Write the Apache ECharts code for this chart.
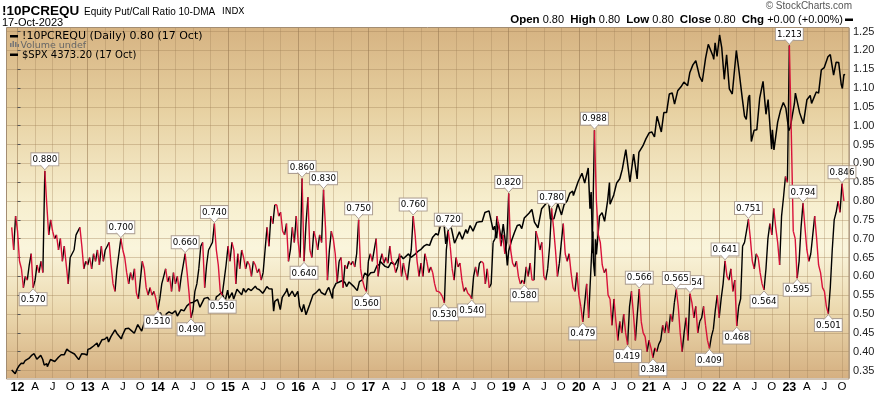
<!DOCTYPE html>
<html><head><meta charset="utf-8">
<script src="https://cdn.jsdelivr.net/npm/echarts@6/dist/echarts.min.js"></script>
<style>html,body{margin:0;padding:0;background:#fff}#c{width:880px;height:394px}</style>
</head><body><div id="c"></div>
<script>
// ---- DATA ----
// Equity Put/Call Ratio 10-DMA, sampled on the 1st, 11th and 21st of each month from Dec 2011
const pcStart = '2011-12-01';
const pcValues = [
0.73,0.67,0.76,0.72,0.64,0.62,0.57,0.60,0.59,0.63,0.66,0.57,
0.59,0.63,0.61,0.64,0.61,0.88,0.79,0.71,0.75,0.72,0.70,0.71,
0.67,0.70,0.64,0.68,0.63,0.58,0.65,0.66,0.67,0.71,0.72,0.73,
0.68,0.62,0.64,0.63,0.65,0.62,0.66,0.64,0.67,0.63,0.68,0.64,
0.67,0.68,0.69,0.63,0.58,0.56,0.62,0.66,0.70,0.67,0.65,0.61,
0.58,0.61,0.59,0.62,0.555,0.54,0.59,0.64,0.62,0.57,0.55,0.57,
0.55,0.56,0.54,0.51,0.54,0.58,0.60,0.62,0.585,0.60,0.56,0.61,
0.58,0.60,0.56,0.60,0.63,0.66,0.61,0.555,0.49,0.51,0.56,0.58,
0.62,0.68,0.69,0.57,0.63,0.67,0.68,0.69,0.74,0.67,0.63,0.56,
0.55,0.59,0.63,0.68,0.64,0.69,0.67,0.58,0.66,0.62,0.67,0.65,
0.62,0.64,0.63,0.60,0.64,0.63,0.61,0.62,0.59,0.61,0.67,0.73,
0.68,0.76,0.74,0.79,0.79,0.76,0.77,0.72,0.71,0.74,0.64,0.67,
0.73,0.69,0.76,0.69,0.65,0.86,
0.64,0.74,0.81,0.67,0.65,0.72,0.70,0.67,0.71,0.69,0.83,0.73,
0.59,0.67,0.72,0.70,0.66,0.585,0.64,0.65,0.57,0.63,0.62,0.64,
0.63,0.64,0.625,0.66,0.75,0.62,0.59,0.57,0.56,0.64,0.66,0.64,
0.67,0.70,0.60,0.64,0.66,0.635,0.65,0.635,0.68,0.64,0.635,0.61,
0.625,0.66,0.60,0.635,0.61,0.59,0.635,0.67,0.76,0.71,0.64,0.60,
0.635,0.60,0.66,0.64,0.61,0.625,0.61,0.58,0.56,0.56,0.555,0.546,
0.53,0.67,0.72,0.68,0.62,0.59,0.65,0.625,0.635,0.59,0.56,0.57,
0.555,0.55,0.54,0.60,0.625,0.60,0.635,0.64,0.635,0.58,0.62,0.57,
0.58,0.69,0.70,0.76,0.73,0.68,0.71,0.66,0.69,0.82,0.67,0.635,
0.625,0.64,0.60,0.58,0.59,0.58,0.625,0.60,0.635,0.59,0.59,0.72,
0.70,0.67,0.69,0.60,0.59,0.62,0.68,0.78,0.73,0.67,0.60,0.635,
0.69,0.74,0.66,0.64,0.66,0.61,0.57,0.56,0.61,0.55,0.52,0.479,
0.53,0.58,0.49,0.60,0.71,0.988,0.80,0.71,0.69,0.63,0.61,0.62,
0.55,0.54,0.47,0.54,0.48,0.43,0.48,0.45,0.50,0.45,0.419,0.52,
0.56,0.50,0.43,0.50,0.566,0.48,0.45,0.44,0.40,0.43,0.41,0.384,
0.41,0.40,0.42,0.43,0.47,0.45,0.48,0.45,0.50,0.48,0.53,0.565,
0.52,0.45,0.40,0.45,0.49,0.43,0.554,0.53,0.49,0.52,0.45,0.48,
0.49,0.52,0.47,0.43,0.409,0.44,0.46,0.51,0.55,0.49,0.54,0.58,
0.641,0.60,0.59,0.62,0.56,0.59,0.468,0.52,0.54,0.68,0.69,0.72,
0.751,0.70,0.64,0.62,0.66,0.65,0.61,0.58,0.564,0.62,0.70,0.74,
0.71,0.78,0.73,0.69,0.63,0.76,0.81,0.865,0.85,1.213,0.98,0.72,
0.70,0.595,0.64,0.73,0.794,0.73,0.67,0.64,0.66,0.71,0.76,0.70,
0.63,0.61,0.57,0.56,0.52,0.501,0.57,0.67,0.75,0.77,0.80,0.77,
0.846,0.80
];
// S&P 500 ($SPX) closes
const spxDates = ['2011-12-01','2011-12-08','2011-12-19','2011-12-30','2012-01-10','2012-01-20','2012-01-31','2012-02-10','2012-02-29','2012-03-15','2012-03-26','2012-04-10','2012-04-20','2012-04-30','2012-05-10','2012-05-18','2012-05-31','2012-06-04','2012-06-20','2012-06-29','2012-07-12','2012-07-31','2012-08-15','2012-08-31','2012-09-14','2012-09-28','2012-10-05','2012-10-23','2012-11-15','2012-11-30','2012-12-14','2012-12-28',
'2013-01-02','2013-01-15','2013-01-31','2013-02-19','2013-02-25','2013-03-14','2013-03-28','2013-04-11','2013-04-18','2013-04-30','2013-05-21','2013-05-31','2013-06-10','2013-06-24','2013-06-28','2013-07-15','2013-07-31','2013-08-15','2013-08-30','2013-09-18','2013-09-30','2013-10-08','2013-10-22','2013-10-31','2013-11-15','2013-11-29','2013-12-12','2013-12-31',
'2014-01-15','2014-02-03','2014-02-14','2014-02-28','2014-03-14','2014-03-31','2014-04-11','2014-04-30','2014-05-15','2014-05-30','2014-06-18','2014-06-30','2014-07-24','2014-08-07','2014-08-29','2014-09-18','2014-09-30','2014-10-15','2014-10-31','2014-11-14','2014-11-28','2014-12-05','2014-12-16','2014-12-29',
'2015-01-06','2015-01-22','2015-01-30','2015-02-17','2015-02-27','2015-03-11','2015-03-20','2015-03-31','2015-04-15','2015-04-30','2015-05-21','2015-05-29','2015-06-12','2015-06-29','2015-07-07','2015-07-20','2015-07-31','2015-08-17','2015-08-25','2015-08-31','2015-09-16','2015-09-29','2015-10-09','2015-10-30','2015-11-03','2015-11-13','2015-11-30','2015-12-14','2015-12-29',
'2016-01-08','2016-01-20','2016-01-29','2016-02-11','2016-02-29','2016-03-17','2016-03-31','2016-04-20','2016-04-29','2016-05-19','2016-05-31','2016-06-08','2016-06-27','2016-06-30','2016-07-15','2016-07-29','2016-08-15','2016-08-31','2016-09-09','2016-09-22','2016-10-14','2016-11-04','2016-11-15','2016-11-30','2016-12-13','2016-12-30',
'2017-01-13','2017-01-31','2017-02-15','2017-02-28','2017-03-01','2017-03-27','2017-04-13','2017-04-28','2017-05-17','2017-05-31','2017-06-19','2017-06-30','2017-07-27','2017-08-10','2017-08-18','2017-08-31','2017-09-15','2017-09-29','2017-10-16','2017-10-31','2017-11-15','2017-11-30','2017-12-18','2017-12-29',
'2018-01-12','2018-01-26','2018-02-08','2018-02-26','2018-03-08','2018-03-23','2018-04-02','2018-04-18','2018-05-03','2018-05-21','2018-05-29','2018-06-13','2018-06-28','2018-07-17','2018-07-31','2018-08-15','2018-08-29','2018-09-20','2018-10-11','2018-10-19','2018-10-29','2018-11-07','2018-11-23','2018-12-03','2018-12-14','2018-12-24','2018-12-31',
'2019-01-15','2019-01-31','2019-02-15','2019-02-28','2019-03-08','2019-03-21','2019-04-15','2019-04-30','2019-05-13','2019-05-31','2019-06-20','2019-06-28','2019-07-15','2019-07-26','2019-08-05','2019-08-23','2019-09-13','2019-10-02','2019-10-15','2019-10-31','2019-11-15','2019-11-29','2019-12-03','2019-12-27',
'2020-01-17','2020-01-31','2020-02-19','2020-02-28','2020-03-04','2020-03-12','2020-03-13','2020-03-16','2020-03-23','2020-03-26','2020-04-01','2020-04-17','2020-04-30','2020-05-13','2020-05-29','2020-06-08','2020-06-11','2020-06-30','2020-07-15','2020-07-31','2020-08-14','2020-09-02','2020-09-23','2020-10-12','2020-10-30','2020-11-09','2020-11-30','2020-12-15','2020-12-31',
'2021-01-15','2021-01-29','2021-02-12','2021-03-04','2021-03-17','2021-03-31','2021-04-15','2021-04-30','2021-05-12','2021-05-28','2021-06-15','2021-06-30','2021-07-19','2021-07-30','2021-08-16','2021-08-31','2021-09-02','2021-09-20','2021-10-04','2021-10-21','2021-11-05','2021-11-30','2021-12-03','2021-12-10','2021-12-20',
'2022-01-03','2022-01-14','2022-01-27','2022-02-09','2022-02-23','2022-03-08','2022-03-29','2022-04-14','2022-04-29','2022-05-11','2022-05-20','2022-05-31','2022-06-07','2022-06-16','2022-06-30','2022-07-14','2022-07-29','2022-08-16','2022-08-31','2022-09-12','2022-09-30','2022-10-04','2022-10-12','2022-10-31','2022-11-15','2022-11-30','2022-12-13','2022-12-28',
'2023-01-05','2023-01-27','2023-02-02','2023-02-24','2023-03-13','2023-03-31','2023-04-18','2023-04-25','2023-05-19','2023-05-31','2023-06-15','2023-06-30','2023-07-19','2023-07-31','2023-08-18','2023-08-31','2023-09-14','2023-09-27','2023-10-03','2023-10-11','2023-10-17'];
const spxValues = [1244,1234,1205,1258,1292,1315,1312,1342,1366,1402,1416,1358,1378,1398,1357,1295,1310,1278,1355,1362,1334,1379,1405,1406,1465,1440,1461,1413,1353,1416,1413,1402,
1462,1472,1498,1530,1488,1563,1569,1593,1541,1597,1669,1631,1643,1573,1606,1682,1686,1661,1633,1725,1682,1656,1754,1757,1798,1806,1775,1848,
1848,1742,1838,1859,1841,1872,1815,1884,1870,1924,1956,1960,1988,1910,2003,2011,1972,1862,2018,2039,2068,2075,1972,2090,
2003,2063,1995,2100,2105,2040,2108,2068,2106,2086,2131,2107,2094,2057,2081,2128,2104,2102,1868,1972,1996,1884,2014,2079,2109,2023,2080,2021,2078,
1922,1859,1940,1829,1932,2040,2060,2102,2065,2040,2097,2119,2001,2099,2162,2174,2190,2171,2128,2177,2133,2085,2180,2199,2272,2239,
2274,2279,2349,2364,2396,2342,2329,2384,2357,2412,2453,2423,2475,2438,2425,2472,2500,2519,2557,2575,2565,2648,2690,2674,
2786,2873,2581,2780,2738,2588,2582,2708,2630,2733,2690,2776,2716,2809,2816,2818,2914,2931,2729,2768,2641,2814,2633,2790,2600,2351,2507,
2610,2704,2775,2784,2743,2855,2905,2946,2812,2752,2954,2942,3014,3026,2844,2847,3007,2888,2996,3038,3120,3141,3093,3240,
3330,3226,3386,2954,3130,2481,2711,2386,2237,2630,2470,2875,2912,2820,3044,3232,3002,3100,3227,3271,3373,3580,3237,3534,3270,3550,3622,3694,3756,
3768,3714,3934,3768,3974,3973,4170,4181,4063,4204,4246,4297,4258,4395,4479,4523,4537,4358,4300,4549,4697,4567,4538,4712,4568,
4796,4663,4326,4587,4225,4170,4632,4392,4132,3935,3901,4132,4160,3667,3785,3790,4130,4305,3955,4110,3586,3791,3577,3872,3992,4080,4019,3783,
3808,4070,4179,3970,3855,4109,4155,4071,4192,4180,4426,4450,4565,4589,4370,4508,4505,4274,4229,4377,4373];
// Price annotations on the ratio: date, value, side
const annotDates  = ['2012-03-21','2012-05-21','2013-06-21','2014-01-01','2014-05-21','2014-06-21','2014-10-21','2014-12-01','2016-01-21','2016-02-01','2016-05-11','2016-11-11','2016-12-21','2017-08-21','2018-02-01','2018-02-21','2018-06-21','2019-01-01','2019-03-21','2019-08-11','2020-01-21','2020-03-21','2020-09-11','2020-11-11','2021-01-21','2021-08-01','2021-05-21','2021-11-11','2022-02-01','2022-04-01','2022-06-01','2022-08-21','2023-01-01','2023-02-11','2023-03-11','2023-07-21','2023-10-01'];
const annotValues = [0.570,0.880,0.700,0.510,0.660,0.490,0.740,0.550,0.860,0.640,0.830,0.750,0.560,0.760,0.530,0.720,0.540,0.820,0.580,0.780,0.479,0.988,0.419,0.566,0.384,0.554,0.565,0.409,0.641,0.468,0.751,0.564,1.213,0.595,0.794,0.501,0.846];
const annotSides  = ['b','t','t','b','t','b','t','b','t','b','t','t','b','t','b','t','b','t','b','t','b','t','b','t','b','t','t','b','t','b','t','b','t','b','t','b','t'];
const yTicks = {min:0.35, max:1.25, step:0.05};
const monthLetters = {3:'A', 6:'J', 9:'O'};

// ---- helpers ----
function monthIndex(s){ const p=s.split('-').map(Number); return (p[0]-2012)*12 + (p[1]-1) + (p[2]-1)/30; }
const pcX0 = monthIndex(pcStart);
const pcPts = pcValues.map((v,i)=>[pcX0 + i/3, v]);
const upSeg=[], dnSeg=[];
for(let i=1;i<pcPts.length;i++){
  const t = pcPts[i][1] > pcPts[i-1][1] ? upSeg : dnSeg;
  t.push(pcPts[i-1], pcPts[i], [pcPts[i][0], '-']);
}
const spxPts = spxDates.map((d,i)=>[monthIndex(d), spxValues[i]]);
const annots = annotDates.map((d,i)=>[monthIndex(d), annotValues[i], annotSides[i]==='t'?1:-1]);

const FONT = 'Liberation Sans, Arial, sans-serif';
const VFONT = '"DejaVu Sans", sans-serif';
const XMIN=-3, XMAX=142.2;
const GL=-4.125, GR=31;
const frameC = '#a38d72';
const chart = echarts.init(document.getElementById('c'), null, {renderer:'canvas'});
chart.setOption({
  animation:false,
  grid:[
    {left:GL, right:GR, top:28, bottom:15, show:true, borderWidth:0,
     backgroundColor:new echarts.graphic.LinearGradient(0,0,0,1,[
       {offset:0,color:'#d6b382'},{offset:0.22,color:'#e6cf9f'},{offset:0.5,color:'#f7efcf'},
       {offset:0.63,color:'#faf5dc'},{offset:0.8,color:'#ecdab0'},{offset:1,color:'#d5b081'}])},
    {left:GL, right:GR, top:31.5, bottom:23.5}
  ],
  xAxis:[
    {type:'value', gridIndex:0, min:XMIN, max:XMAX, interval:3,
     axisLine:{show:false}, axisTick:{show:false},
     splitLine:{show:true, lineStyle:{width:1, color:['rgba(160,128,88,0.32)','rgba(150,118,80,0.55)','rgba(160,128,88,0.32)','rgba(160,128,88,0.32)']}},
     axisLabel:{margin:3, color:'#000', fontFamily:FONT, showMinLabel:false, showMaxLabel:false,
       formatter:function(v){ const m=Math.round(v); if(Math.abs(v-m)>1e-6||m<0) return '';
         const r=((m%12)+12)%12; if(r===0) return '{y|'+String(12+m/12)+'}'; return '{m|'+(monthLetters[r]||'')+'}'; },
       rich:{y:{fontWeight:'bold',fontSize:12.5,fontFamily:FONT,color:'#000'}, m:{fontSize:11.5,fontFamily:FONT,color:'#000'}}}},
    {type:'value', gridIndex:1, min:XMIN, max:XMAX, show:false}
  ],
  yAxis:[
    {type:'value', gridIndex:0, min:0, max:1, show:false, splitLine:{show:false}},
    {type:'value', gridIndex:1, position:'right', min:yTicks.min, max:yTicks.max, interval:yTicks.step,
     axisLine:{show:false}, axisTick:{show:true, length:3, lineStyle:{color:'#555'}},
     axisLabel:{margin:4, color:'#222', fontSize:11, fontFamily:FONT, formatter:v=>v.toFixed(2)},
     splitLine:{show:true, lineStyle:{color:'rgba(160,128,88,0.38)', width:1}}},
    {type:'value', gridIndex:1, min:1238, max:4833, show:false, splitLine:{show:false}}
  ],
  series:[
    {type:'line', xAxisIndex:1, yAxisIndex:2, data:spxPts, showSymbol:false, clip:false,
     lineStyle:{color:'#000', width:1.5}, z:2},
    {type:'line', xAxisIndex:1, yAxisIndex:1, data:upSeg, showSymbol:false, connectNulls:false,
     lineStyle:{color:'#000', width:1.4}, z:3},
    {type:'line', xAxisIndex:1, yAxisIndex:1, data:dnSeg, showSymbol:false, connectNulls:false,
     lineStyle:{color:'#d8123a', width:1.4}, z:3},
    {type:'custom', xAxisIndex:1, yAxisIndex:1, data:annots, z:10, clip:false,
     renderItem:function(params, api){
       const p = api.coord([api.value(0), api.value(1)]);
       const up = api.value(2) > 0;
       const tip = p[1] + (up ? -1 : 1);
       const base = tip + (up ? -5 : 5);
       const txt = Number(api.value(1)).toFixed(3);
       return {type:'group', children:[
         {type:'text', x:p[0], y:base + (up?0.5:-0.5), style:{text:txt, fill:'#000', font:'8.7px '+VFONT,
           align:'center', verticalAlign: up?'bottom':'top', backgroundColor:'#fff', borderColor:'#ad9f92', borderWidth:1, padding:[2,1,1,1]}},
         {type:'polygon', shape:{points:[[p[0]-4.5, base],[p[0]+4.5, base],[p[0], tip]]}, style:{fill:'#fff', stroke:null}},
         {type:'polyline', shape:{points:[[p[0]-4.5, base],[p[0], tip],[p[0]+4.5, base]]}, style:{stroke:'#ad9f92', fill:null, lineWidth:1}}
       ]};
     }}
  ],
  graphic:[
    {type:'rect', shape:{x:0,y:27,width:6.5,height:353}, style:{fill:'#fff'}, z:100},
    {type:'rect', shape:{x:6.5,y:27.5,width:842.5,height:351.5}, style:{fill:null, stroke:frameC, lineWidth:1}, z:101},
    {type:'text', x:2, y:11, style:{text:'!10PCREQU', font:'bold 13.5px '+FONT, fill:'#000', verticalAlign:'middle'}, z:100},
    {type:'text', x:84, y:12, style:{text:'Equity Put/Call Ratio 10-DMA', font:'10px '+FONT, fill:'#000', verticalAlign:'middle'}, z:100},
    {type:'text', x:222, y:12, style:{text:'INDX', font:'9px '+VFONT, fill:'#000', verticalAlign:'middle'}, z:100},
    {type:'text', x:2, y:22.5, style:{text:'17-Oct-2023', font:'11px '+FONT, fill:'#000', verticalAlign:'middle'}, z:100},
    {type:'text', x:852, y:6, style:{text:'\u00a9 StockCharts.com', font:'10px '+FONT, fill:'#555', align:'right', verticalAlign:'middle'}, z:100},
    {type:'text', x:843, y:19.5, style:{text:'{b|Open} 0.80  {b|High} 0.80  {b|Low} 0.80  {b|Close} 0.80  {b|Chg} +0.00 (+0.00%)',
      font:'11px '+FONT, fill:'#000', align:'right', verticalAlign:'middle', rich:{b:{fontWeight:'bold', fontSize:11.5, fontFamily:FONT}}}, z:100},
    {type:'rect', shape:{x:845,y:18.5,width:8,height:2.5}, style:{fill:'#000'}, z:100},
    // legend
    {type:'rect', shape:{x:10,y:35,width:8,height:2.5}, style:{fill:'#000'}, z:100},
    {type:'text', x:22, y:36.5, style:{text:'!10PCREQU (Daily) 0.80 (17 Oct)', font:'11px '+VFONT, fill:'#000', verticalAlign:'middle'}, z:100},
    {type:'rect', shape:{x:10,y:43,width:1.5,height:4}, style:{fill:'#777'}, z:100},
    {type:'rect', shape:{x:12.5,y:41,width:1.5,height:6}, style:{fill:'#777'}, z:100},
    {type:'rect', shape:{x:15,y:42,width:1.5,height:5}, style:{fill:'#777'}, z:100},
    {type:'rect', shape:{x:17.5,y:44,width:1.5,height:3}, style:{fill:'#777'}, z:100},
    {type:'text', x:20.5, y:45.5, style:{text:'Volume undef', font:'9.5px '+VFONT, fill:'#666', verticalAlign:'middle'}, z:100},
    {type:'rect', shape:{x:10,y:53.5,width:8,height:2.5}, style:{fill:'#000'}, z:100},
    {type:'text', x:22, y:55, style:{text:'$SPX 4373.20 (17 Oct)', font:'10px '+VFONT, fill:'#000', verticalAlign:'middle'}, z:100}
  ]
});
</script></body></html>
